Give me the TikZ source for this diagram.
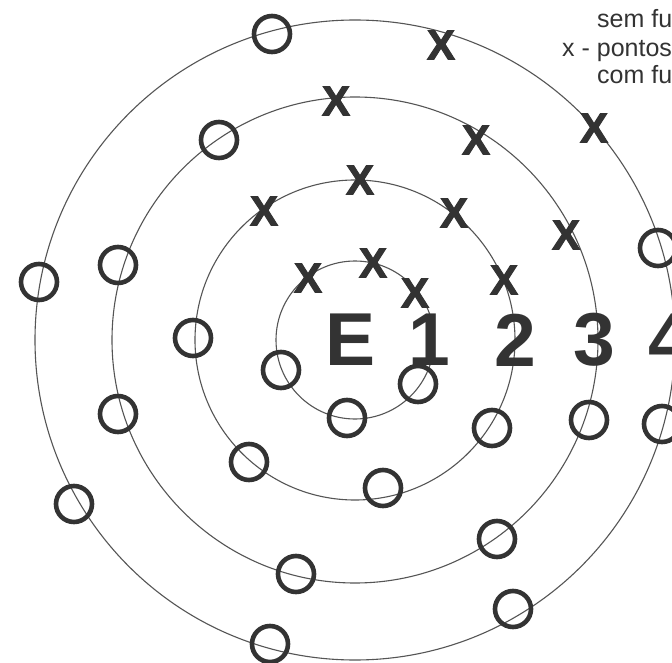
\documentclass[tikz,border=0pt]{standalone}
\usepackage{fontspec}
\setmainfont{Liberation Sans}
\newfontfamily\heavyfont{Liberation Sans}[BoldFeatures={FakeBold=2.5}]
\usepackage{xcolor}
\definecolor{Ink}{HTML}{333333}
\definecolor{Ring}{HTML}{555555}
\usetikzlibrary{positioning}
\tikzset{
  ring/.style={draw=Ring,line width=1.1pt},
  xmark/.style={inner sep=0pt,text=Ink,font=\heavyfont\fontsize{42}{42}\selectfont\bfseries},
  omark/.style={circle,draw=Ink,line width=4.6pt,minimum size=36pt,inner sep=0pt},
  zone/.style={inner sep=0pt,text=Ink,font=\fontsize{75}{75}\selectfont\bfseries},
  legend/.style={inner sep=0pt,anchor=base west,text=Ink,font=\fontsize{25}{28}\selectfont}
}

\begin{document}
\begin{tikzpicture}[x=1pt,y=-1pt]
  \fill[white] (0,0) rectangle (672,663);
  \useasboundingbox (0,0) rectangle (672,663);
  \coordinate (ctr) at (355,340);
  % rings around the sample point
  \foreach \r in {79,160,243,320}
    \draw[ring] (ctr) circle[radius=\r pt];
  % points with fungus
  \foreach \p [count=\i] in {(441,45),(336,101),(476,140),(594,128),(360,180),(264,211),
      (454,213),(566,235),(373,263),(308,278),(415,293),(504,280)}
    \node[xmark] (x\i) at \p {X};
  % points without fungus
  \foreach \p [count=\i] in {(272,34),(219,140),(39,282),(118,265),(193,338),(281,370),
      (418,384),(347,418),(589,420),(492,428),(658,248),(662,424),(118,414),(249,462),
      (383,488),(74,504),(497,539),(296,574),(513,609),(270,644)}
    \node[omark] (o\i) at \p {};
  \node[zone] (lE) at (351,340) {E};
  \node[zone] (l1) at (429,340) {1};
  \node[zone] (l2) at (515,340) {2};
  \node[zone] (l3) at (594,340) {3};
  \node[zone] (l4) at (669,340) {4};
  \node[legend] (semfu) at (597,28) {sem fu};
  \node[legend] (xpontos) at (562,57) {x - pontos};
  \node[legend] (comfu) at (597,84) {com fu};
\end{tikzpicture}
\end{document}
